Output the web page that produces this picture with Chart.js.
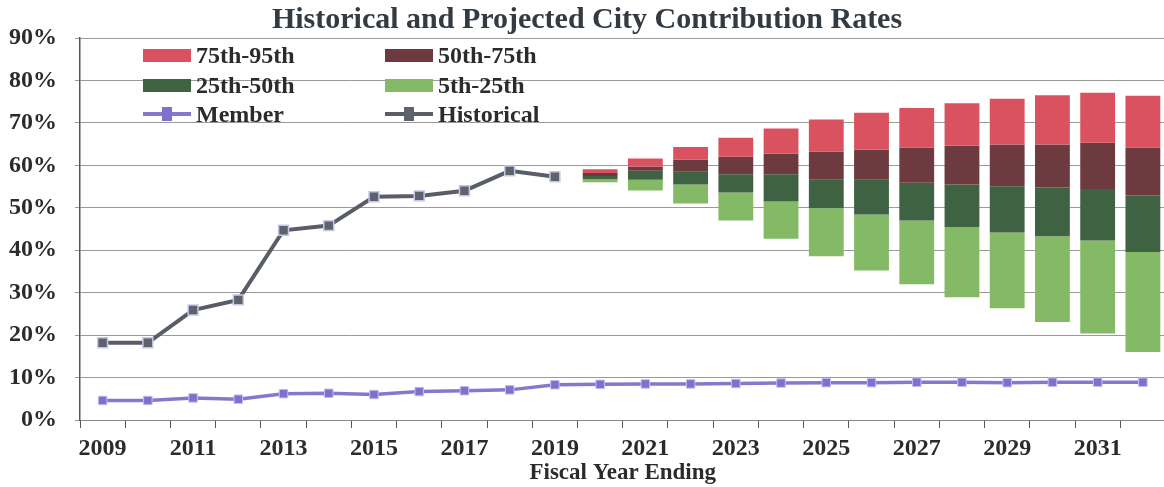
<!DOCTYPE html>
<html>
<head>
<meta charset="utf-8">
<script src="https://cdn.jsdelivr.net/npm/chart.js@4"></script>
<style>
    html, body { margin: 0; padding: 0; background: #fff; overflow: hidden; }
    #wrap { position: relative; width: 1164px; height: 487px; overflow: hidden; }
    #legend { position: absolute; left: 0; top: 0; font: bold 24px "Liberation Serif", serif; color: #2b2b2b; }
    .item { position: absolute; height: 28px; line-height: 28px; white-space: nowrap; }
    .item .box { position: absolute; left: 0; top: 8px; width: 48px; height: 13px; }
    .item .txt { position: absolute; left: 53px; top: 0; }
    .item .ln { position: absolute; left: 0; top: 12px; width: 48px; height: 4px; }
    .item .mk { position: absolute; left: 19px; top: 7px; width: 10px; height: 14px; }
</style>
</head>
<body>
<div id="wrap">
    <canvas id="chart" width="1174" height="487"></canvas>
    <div id="legend"></div>
</div>
<script>
const years = ['2009','2010','2011','2012','2013','2014','2015','2016','2017','2018','2019','2020',
               '2021','2022','2023','2024','2025','2026','2027','2028','2029','2030','2031','2032'];

// historical city rate (%), 2009-2019
const historical = [18.2, 18.2, 25.9, 28.3, 44.7, 45.8, 52.6, 52.8, 54.0, 58.7, 57.3];
// member rate (%), 2009-2032
const member = [4.6, 4.6, 5.2, 4.9, 6.2, 6.3, 6.0, 6.7, 6.9, 7.1, 8.3, 8.4,
                8.5, 8.5, 8.6, 8.7, 8.8, 8.8, 8.9, 8.9, 8.8, 8.9, 8.9, 8.9];

// projected percentiles (%), 2020-2032
const p5  = [56.0, 54.1, 51.0, 47.0, 42.7, 38.6, 35.2, 32.0, 28.9, 26.3, 23.1, 20.4, 16.0];
const p25 = [56.7, 56.6, 55.5, 53.6, 51.5, 49.9, 48.4, 47.0, 45.5, 44.2, 43.3, 42.3, 39.6];
const p50 = [57.5, 58.7, 58.5, 57.9, 57.9, 56.6, 56.6, 55.9, 55.5, 55.1, 54.8, 54.4, 52.9];
const p75 = [58.2, 59.7, 61.3, 62.0, 62.7, 63.2, 63.7, 64.2, 64.6, 64.9, 64.9, 65.3, 64.2];
const p95 = [59.1, 61.6, 64.3, 66.5, 68.7, 70.8, 72.4, 73.5, 74.6, 75.7, 76.5, 77.1, 76.4];

const yTicks = [0, 10, 20, 30, 40, 50, 60, 70, 80, 90];

const firstProj = years.indexOf('2020');
function band(lo, hi) {
    return years.map((_, i) => i < firstProj ? null : [lo[i - firstProj], hi[i - firstProj]]);
}
const histData = years.map((_, i) => i < historical.length ? historical[i] : null);

const colors = {
    r95: '#da525f',
    r75: '#6d3b3f',
    r50: '#3f6242',
    r25: '#84ba66',
    member: '#8678cc',
    memberPt: '#7f70cc',
    hist: '#595e66',
    histPt: '#5d636c'
};

const serif = '"Liberation Serif", "Times New Roman", serif';

function barSet(label, data, color) {
    return {
        type: 'bar', label: label, data: data,
        backgroundColor: color, borderColor: color, borderWidth: 0,
        barPercentage: 0.77, categoryPercentage: 1.0, order: 3
    };
}

const ctx = document.getElementById('chart').getContext('2d');
const chart = new Chart(ctx, {
    data: {
        labels: years,
        datasets: [
            barSet('75th-95th', band(p75, p95), colors.r95),
            barSet('50th-75th', band(p50, p75), colors.r75),
            barSet('25th-50th', band(p25, p50), colors.r50),
            barSet('5th-25th', band(p5, p25), colors.r25),
            {
                type: 'line', label: 'Member', data: member,
                borderColor: colors.member, borderWidth: 3.5,
                pointStyle: 'rect', pointRadius: 6, pointBackgroundColor: colors.memberPt,
                pointBorderColor: '#c4bdf0', pointBorderWidth: 1, order: 1
            },
            {
                type: 'line', label: 'Historical', data: histData,
                borderColor: colors.hist, borderWidth: 4,
                pointStyle: 'rect', pointRadius: 7, pointBackgroundColor: colors.histPt,
                pointBorderColor: '#c9c5ea', pointBorderWidth: 1.5, order: 2
            }
        ]
    },
    options: {
        responsive: false,
        animation: false,
        layout: { padding: { left: 0, right: 0, top: 0, bottom: 0 } },
        plugins: {
            legend: { display: false },
            tooltip: { enabled: false },
            title: {
                display: true,
                text: 'Historical and Projected City Contribution Rates',
                color: '#343a42',
                font: { family: serif, size: 30, weight: 'bold' },
                padding: { top: 2, bottom: 0 }
            }
        },
        scales: {
            x: {
                stacked: true,
                offset: true,
                grid: { offset: true, drawOnChartArea: false, drawTicks: true, tickLength: 8, color: '#555' },
                border: { display: true, color: '#888', width: 1 },
                ticks: {
                    autoSkip: false, maxRotation: 0, padding: 6,
                    color: '#2b2b2b',
                    font: { family: serif, size: 24, weight: 'bold' },
                    callback: function(value, index) { return index % 2 === 0 ? years[index] : ''; }
                },
                title: {
                    display: true, text: 'Fiscal Year Ending', color: '#2b2b2b',
                    font: { family: serif, size: 23, weight: 'bold' },
                    padding: { top: 0, bottom: 0 }
                },
                afterFit: function(scale) { scale.height = 67; }
            },
            y: {
                min: 0, max: 90,
                afterBuildTicks: function(scale) { scale.ticks = yTicks.map(v => ({ value: v })); },
                grid: { color: '#9a9a9a', lineWidth: 1, tickLength: 5 },
                border: { display: true, color: '#555', width: 1.5 },
                ticks: {
                    color: '#2b2b2b', padding: 18,
                    font: { family: serif, size: 24, weight: 'bold' },
                    callback: v => v + '%'
                },
                afterFit: function(scale) { scale.width = 80; }
            }
        }
    }
});

// legend drawn as html over the plot, two columns like the original
const legendItems = [
    { label: '75th-95th', color: colors.r95, x: 143, y: 41 },
    { label: '50th-75th', color: colors.r75, x: 385, y: 41 },
    { label: '25th-50th', color: colors.r50, x: 143, y: 71 },
    { label: '5th-25th', color: colors.r25, x: 385, y: 71 },
    { label: 'Member', line: colors.member, mark: colors.memberPt, x: 143, y: 100 },
    { label: 'Historical', line: colors.hist, mark: colors.histPt, x: 385, y: 100 }
];
const legend = document.getElementById('legend');
legendItems.forEach(it => {
    const d = document.createElement('div');
    d.className = 'item';
    d.style.left = it.x + 'px';
    d.style.top = it.y + 'px';
    if (it.color) {
        d.innerHTML = '<span class="box" style="background:' + it.color + '"></span>';
    } else {
        d.innerHTML = '<span class="ln" style="background:' + it.line + '"></span>' +
                      '<span class="mk" style="background:' + it.mark + '"></span>';
    }
    const t = document.createElement('span');
    t.className = 'txt';
    t.textContent = it.label;
    d.appendChild(t);
    legend.appendChild(d);
});
</script>
</body>
</html>
